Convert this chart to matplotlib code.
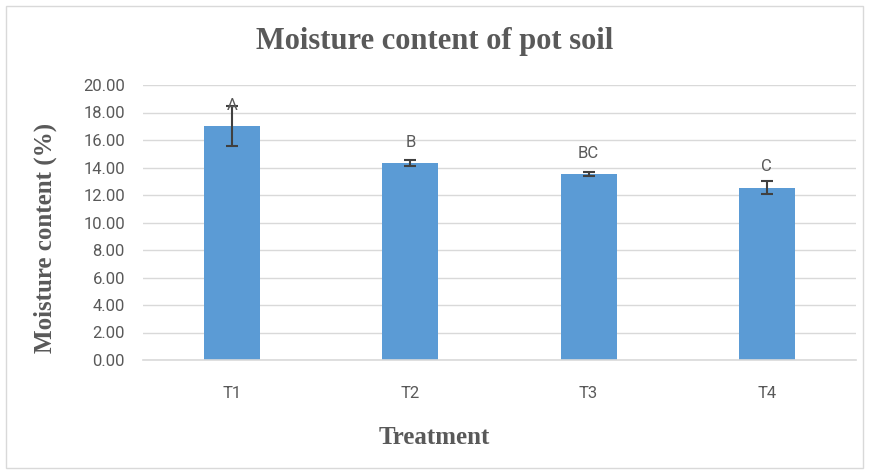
from matplotlib import pyplot as plt
import numpy as np

# data
treatments = ['T1', 'T2', 'T3', 'T4']
moisture = [17.02, 14.33, 13.52, 12.54]
errors = [1.42, 0.24, 0.15, 0.47]
letters = ['A', 'B', 'BC', 'C']

text_gray = '#595959'
serif = ['Liberation Serif', 'DejaVu Serif']

fig = plt.figure(figsize=(8.69, 4.74), dpi=100)
ax = fig.add_axes([143 / 869, 1 - 360 / 474, (856 - 143) / 869, (360 - 85) / 474])

x = np.arange(len(treatments))
ax.bar(x, moisture, width=0.315, color='#5B9BD5', zorder=2)
ax.errorbar(x, moisture, yerr=errors, fmt='none', ecolor='#404040',
            elinewidth=1.5, capsize=4, capthick=1.5, zorder=3)

# significance letters above bars
for xi, val, lab in zip(x, moisture, letters):
    ax.annotate(lab, (xi, val), xytext=(0, 15), textcoords='offset points',
                ha='center', va='center', fontsize=12, color=text_gray,
                fontfamily='Roboto', zorder=4)

ax.set_xlim(-0.5, len(treatments) - 0.5)
ax.set_ylim(0, 20)
ax.set_yticks(np.arange(0, 20.01, 2))
ax.set_yticklabels([f'{v:.2f}' for v in np.arange(0, 20.01, 2)])
ax.set_xticks(x)
ax.set_xticklabels(treatments)
ax.tick_params(length=0, labelsize=12, labelcolor=text_gray)
ax.tick_params(axis='y', pad=13)
ax.tick_params(axis='x', pad=19)
for lab in ax.get_xticklabels() + ax.get_yticklabels():
    lab.set_fontfamily('Roboto')

ax.grid(axis='y', color='#D9D9D9', linewidth=1, zorder=0)
for side in ['top', 'right', 'left']:
    ax.spines[side].set_visible(False)
ax.spines['bottom'].set_color('#D9D9D9')
ax.spines['bottom'].set_linewidth(1.2)

fig.text(0.5, 1 - 42 / 474, 'Moisture content of pot soil', ha='center', va='center',
         fontsize=22, fontweight='bold', color=text_gray, fontfamily=serif)
fig.text(0.5, 1 - 437 / 474, 'Treatment', ha='center', va='center',
         fontsize=18, fontweight='bold', color=text_gray, fontfamily=serif)
fig.text(45 / 869, 1 - 238 / 474, 'Moisture content (%)', ha='center', va='center',
         rotation=90, fontsize=18, fontweight='bold', color=text_gray, fontfamily=serif)

# light border around the chart area
fig.patches.append(plt.Rectangle((6 / 869, 6 / 474), 1 - 12 / 869, 1 - 12 / 474,
                                 transform=fig.transFigure, fill=False,
                                 edgecolor='#D9D9D9', linewidth=1))

plt.savefig('out.png', dpi=100)
